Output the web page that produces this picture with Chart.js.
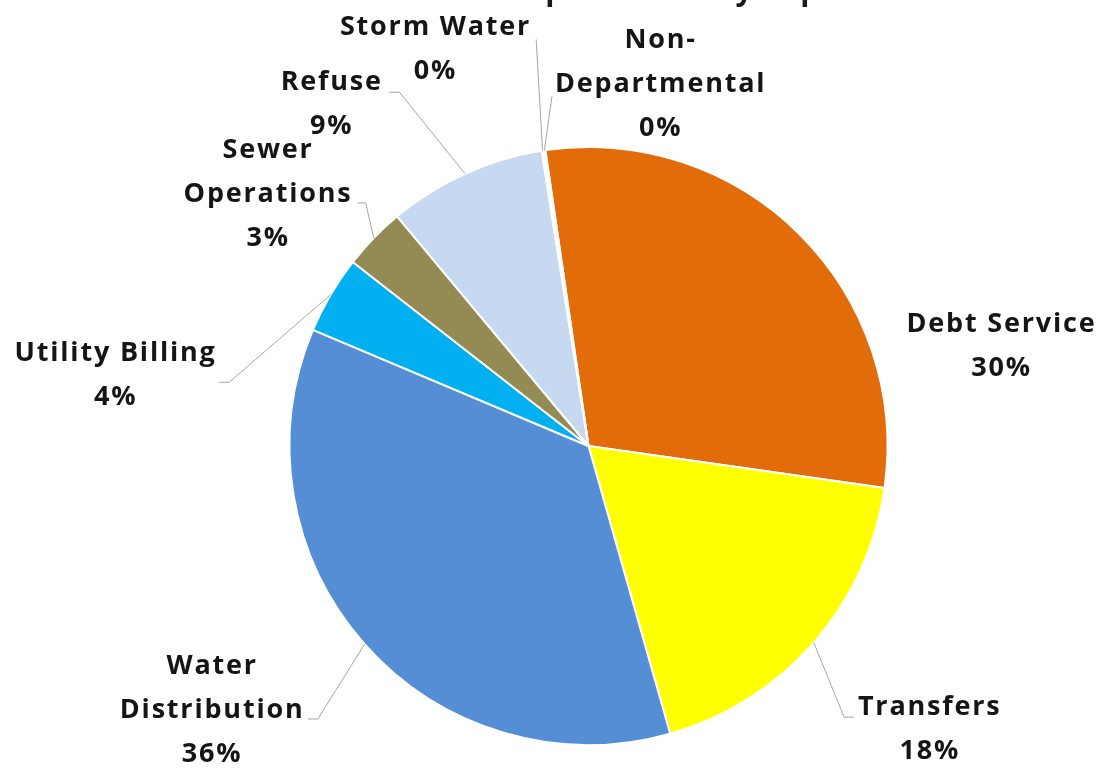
<!DOCTYPE html>
<html>
<head>
<meta charset="utf-8">
<script src="https://cdn.jsdelivr.net/npm/chart.js@4"></script>
<style>
html,body{margin:0;padding:0;background:#fff;}
#wrap{width:1105px;height:769px;position:relative;}
</style>
</head>
<body>
<div id="wrap"><canvas id="c" width="1105" height="769"></canvas></div>
<script>
const titleText = "Total Water Fund Expenditures by Department";
const categories = ["Debt Service", "Transfers", "Water Distribution", "Utility Billing", "Sewer Operations", "Refuse", "Storm Water", "Non-Departmental"];
const labelLines = [["Debt Service"], ["Transfers"], ["Water", "Distribution"], ["Utility Billing"], ["Sewer", "Operations"], ["Refuse"], ["Storm Water"], ["Non-", "Departmental"]];
const values = [29.55, 18.35, 35.75, 4.2, 3.4, 8.55, 0.1, 0.1];
const colors = ["#E36C0A", "#FFFF00", "#558ED5", "#00B0F0", "#948A54", "#C6D9F1", "#A6A6A6", "#7F7F7F"];

// label layout, in units of the pie radius, relative to the pie centre
const labelLayout = [
  {c: [1.378, -0.332], lead: null},
  {c: [1.138, 0.947], lead: [[0.855, 0.907], [0.888, 0.907]]},
  {c: [-1.262, 0.885], lead: [[-0.905, 0.913], [-0.938, 0.913]]},
  {c: [-1.585, -0.235], lead: [[-1.202, -0.213], [-1.235, -0.213]]},
  {c: [-1.075, -0.843], lead: [[-0.745, -0.813], [-0.772, -0.813]]},
  {c: [-0.862, -1.142], lead: [[-0.632, -1.183], [-0.668, -1.183]]},
  {c: [-0.515, -1.328], lead: [[-0.175, -1.36]]},
  {c: [0.238, -1.21], lead: [[-0.122, -1.17]]}
];

const total = values.reduce((a, b) => a + b, 0);
const FONT = "bold 27px 'Open Sans', 'Noto Sans', sans-serif";

const labelPlugin = {
  id: 'pieLabels',
  afterDatasetsDraw(chart) {
    const ctx = chart.ctx;
    const meta = chart.getDatasetMeta(0);
    ctx.save();
    // title (cut off at the top edge)
    ctx.font = "bold 30px 'Open Sans', sans-serif";
    ctx.fillStyle = "#1a1a1a";
    ctx.textAlign = "center";
    ctx.textBaseline = "alphabetic";
    ctx.fillText(titleText, chart.width * 0.538, 0);

    meta.data.forEach((arc, i) => {
      const p = arc.getProps(['x', 'y', 'startAngle', 'endAngle', 'outerRadius'], true);
      const R = p.outerRadius;
      const cx = p.x, cy = p.y;
      const mid = (p.startAngle + p.endAngle) / 2;
      const ex = cx + R * Math.cos(mid), ey = cy + R * Math.sin(mid);
      const L = labelLayout[i];
      if (L.lead) {
        ctx.strokeStyle = "#A6A6A6";
        ctx.lineWidth = 1;
        ctx.beginPath();
        ctx.moveTo(ex, ey);
        L.lead.forEach(pt => ctx.lineTo(cx + pt[0] * R, cy + pt[1] * R));
        ctx.stroke();
      }
      const lines = labelLines[i].concat([Math.round(values[i] / total * 100) + "%"]);
      const lh = 0.147 * R;
      const lx = cx + L.c[0] * R;
      const ly0 = cy + L.c[1] * R - (lines.length - 1) * lh / 2;
      ctx.font = FONT;
      ctx.letterSpacing = "1.8px";
      ctx.fillStyle = "#151515";
      ctx.textAlign = "center";
      ctx.textBaseline = "middle";
      lines.forEach((t, k) => ctx.fillText(t, lx + 1, ly0 + k * lh));
    });
    ctx.restore();
  }
};

new Chart(document.getElementById('c'), {
  type: 'pie',
  data: {
    labels: categories,
    datasets: [{
      data: values,
      backgroundColor: colors,
      borderColor: "#FFFFFF",
      borderWidth: 2
    }]
  },
  options: {
    responsive: false,
    animation: false,
    rotation: -8.3,
    layout: {padding: {top: 146, bottom: 23, left: 288, right: 216}},
    plugins: {legend: {display: false}, tooltip: {enabled: false}, title: {display: false}}
  },
  plugins: [labelPlugin]
});
</script>
</body>
</html>
